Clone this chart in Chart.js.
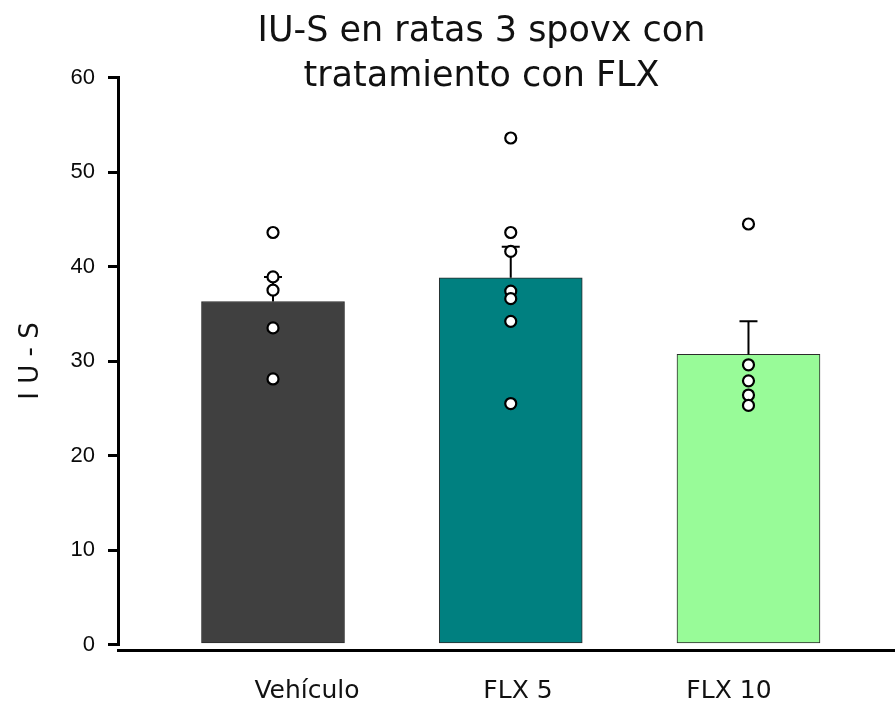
<!DOCTYPE html>
<html>
<head>
<meta charset="utf-8">
<script src="https://cdn.jsdelivr.net/npm/chart.js@4/dist/chart.umd.min.js"></script>
<style>
  html, body { margin: 0; padding: 0; background: #fff; }
  #wrap { width: 895px; height: 706px; }
</style>
</head>
<body>
<div id="wrap"><canvas id="c" width="895" height="706"></canvas></div>
<script>
// Groups and summary values (mean and SEM of IU-S)
const categories = ['Vehículo', 'FLX 5', 'FLX 10'];
const means = [36.3, 38.8, 30.7];
const sem = [2.6, 3.3, 3.5];

// Individual animals per group
const vehiculoPts = [43.6, 38.9, 37.5, 33.5, 28.1];
const flx5Pts = [53.6, 43.6, 41.6, 37.4, 36.6, 34.2, 25.5];
const flx10Pts = [44.5, 29.6, 27.9, 26.4, 25.3];

const barColors = ['#404040', '#008080', '#98fb98'];
const yTickValues = [0, 10, 20, 30, 40, 50, 60];

const groupPoints = [vehiculoPts, flx5Pts, flx10Pts];
const scatterData = [];
groupPoints.forEach((pts, gi) => pts.forEach(v => scatterData.push({ x: gi, y: v })));

const FONT_MAIN = '"DejaVu Sans", sans-serif';

// Upper error bars (mean + SEM), drawn right after the bars
const errorBars = {
  id: 'errorBars',
  afterDatasetDraw(chart, args) {
    if (args.meta.type !== 'bar') return;
    const ctx = chart.ctx;
    const y = chart.scales.y;
    ctx.save();
    ctx.strokeStyle = '#000';
    ctx.lineWidth = 2;
    args.meta.data.forEach((bar, i) => {
      const top = y.getPixelForValue(means[i] + sem[i]);
      ctx.beginPath();
      ctx.moveTo(bar.x, bar.y);
      ctx.lineTo(bar.x, top);
      ctx.moveTo(bar.x - 9, top);
      ctx.lineTo(bar.x + 9, top);
      ctx.stroke();
    });
    ctx.restore();
  }
};

// Baseline drawn slightly below the plot, spanning to the right edge
const baseLine = {
  id: 'baseLine',
  afterDraw(chart) {
    const { ctx, chartArea } = chart;
    ctx.save();
    ctx.strokeStyle = '#000';
    ctx.lineWidth = 3;
    ctx.beginPath();
    ctx.moveTo(chartArea.left - 1, chartArea.bottom + 6);
    ctx.lineTo(chart.width, chartArea.bottom + 6);
    ctx.stroke();
    ctx.restore();
  }
};

new Chart(document.getElementById('c'), {
  type: 'bar',
  data: {
    datasets: [
      {
        type: 'scatter',
        data: scatterData,
        xAxisID: 'x',
        backgroundColor: '#fff',
        borderColor: '#000',
        borderWidth: 2.2,
        pointRadius: 5.5,
        order: 0
      },
      {
        type: 'bar',
        data: means.map((m, i) => ({ x: i, y: m })),
        xAxisID: 'x',
        backgroundColor: barColors,
        borderColor: '#2b2b2b',
        borderWidth: 1,
        borderSkipped: false,
        barThickness: 143,
        order: 1
      }
    ]
  },
  plugins: [errorBars, baseLine],
  options: {
    responsive: false,
    animation: false,
    devicePixelRatio: 1,
    layout: { padding: { left: 10, right: 50, top: 0, bottom: 0 } },
    plugins: {
      legend: { display: false },
      tooltip: { enabled: false },
      title: {
        display: true,
        fullSize: false,
        text: ['IU-S en ratas 3 spovx con', 'tratamiento con FLX'],
        color: '#111',
        font: { family: FONT_MAIN, size: 35, weight: 'normal', lineHeight: 1.286 },
        padding: { top: 9, bottom: -21.5 }
      }
    },
    scales: {
      x: {
        type: 'linear',
        display: false,
        offset: false,
        bounds: 'data',
        min: -0.652,
        max: 2.406
      },
      xl: {
        type: 'linear',
        position: 'bottom',
        offset: false,
        bounds: 'data',
        min: -0.896,
        max: 2.550,
        afterBuildTicks(axis) { axis.ticks = categories.map((_, i) => ({ value: i })); },
        afterFit(axis) { axis.height = 61.5; },
        grid: { display: false, drawTicks: false },
        border: { display: false },
        ticks: {
          padding: 31.5,
          maxRotation: 0,
          autoSkip: false,
          color: '#111',
          font: { family: FONT_MAIN, size: 25, lineHeight: 1.2 },
          callback: v => categories[v]
        }
      },
      y: {
        min: 0,
        max: 60,
        afterBuildTicks(axis) { axis.ticks = yTickValues.map(v => ({ value: v })); },
        afterFit(axis) { axis.width = 108; },
        grid: { drawOnChartArea: false, drawTicks: true, tickLength: 10, color: '#000', lineWidth: 3 },
        border: { display: true, color: '#000', width: 3 },
        ticks: {
          padding: 13,
          color: '#0a0a0a',
          font: { family: '"Liberation Sans", Arial, sans-serif', size: 22 }
        },
        title: {
          display: true,
          text: 'I U - S',
          color: '#111',
          font: { family: FONT_MAIN, size: 26, lineHeight: 1.2 },
          padding: { top: 6, bottom: 0 }
        }
      }
    }
  }
});
</script>
</body>
</html>
